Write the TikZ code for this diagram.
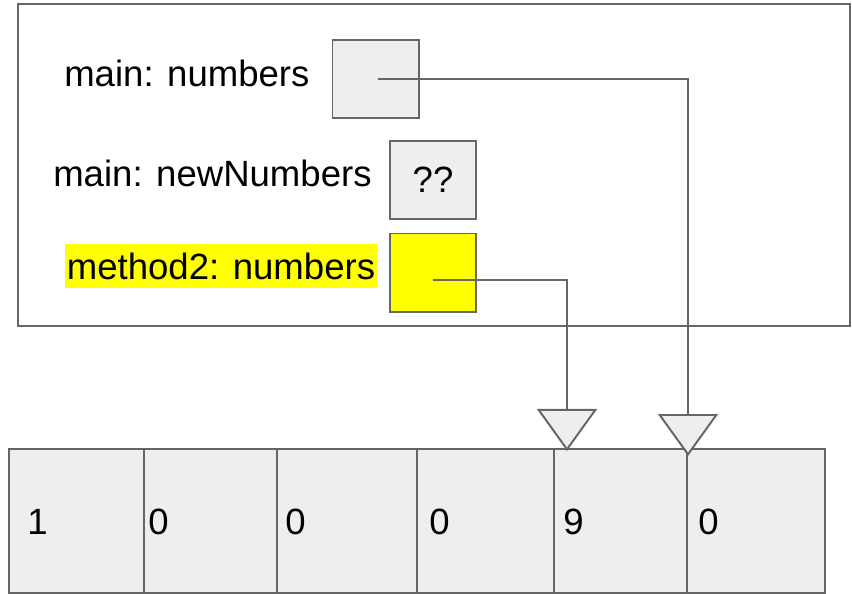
\documentclass[tikz,border=0pt]{standalone}
\usepackage{fontspec}
\setmainfont{Liberation Sans}
\usetikzlibrary{arrows.meta}

\definecolor{boxgray}{HTML}{EEEEEE}
\definecolor{edgegray}{HTML}{666666}
\definecolor{hilite}{HTML}{FFFF00}

\tikzset{
  stackframe/.style={draw=edgegray, line width=1.4pt, inner sep=0pt, anchor=north west},
  slot/.style={draw=edgegray, line width=1.4pt, fill=boxgray, minimum width=2.15cm, minimum height=1.95cm, inner sep=0pt},
  cell/.style={draw=edgegray, line width=1.4pt, fill=boxgray, minimum height=3.6cm, minimum width=#1, inner sep=0pt, anchor=north west},
  digit/.style={anchor=base west, inner sep=0pt},
  varname/.style={anchor=base west, inner sep=0pt},
  pointer/.style={draw=edgegray, line width=1pt, -{Triangle[length=1.05cm, width=1.5cm, fill=boxgray, line width=1.4pt]}},
}

\begin{document}
\begin{tikzpicture}[x=0.025cm, y=-0.025cm, font=\fontsize{26pt}{31pt}\selectfont]
\useasboundingbox (0,0) rectangle (852,593);

% stack
\node[stackframe, minimum width=20.8cm, minimum height=8.05cm] (stack) at (17,3) {};
\node[varname] (numLabel) at (64,86) {main: numbers};
\node[slot] (numBox) at (375.5,79) {};
\node[varname] (newLabel) at (53,186) {main: newNumbers};
\node[slot] (newBox) at (433,180) {??};
\node[varname, fill=hilite, inner xsep=0.04cm, text height=0.88cm, text depth=0.23cm] (m2Label) at (65,279) {method2: numbers};
\node[slot, fill=hilite] (m2Box) at (433,272.5) {};

% heap array
\node[cell=3.375cm] (c1) at (8,448) {};
\node[cell=3.325cm] (c2) at (143,448) {};
\node[cell=3.5cm] (c3) at (276,448) {};
\node[cell=3.425cm] (c4) at (416,448) {};
\node[cell=3.325cm] (c5) at (553,448) {};
\node[cell=3.45cm] (c6) at (686,448) {};
\node[digit] (d1) at (27,534) {1};
\node[digit] (d2) at (148,534) {0};
\node[digit] (d3) at (285,534) {0};
\node[digit] (d4) at (429,534) {0};
\node[digit] (d5) at (563,534) {9};
\node[digit] (d6) at (698,534) {0};

\coordinate (tipA) at (567,451);
\coordinate (tipB) at (688,456);

\draw[pointer] ([yshift=-0.19cm]m2Box.center) -| (tipA);
\draw[pointer] ([xshift=0.06cm]numBox.center) -| (tipB);
\end{tikzpicture}
\end{document}
